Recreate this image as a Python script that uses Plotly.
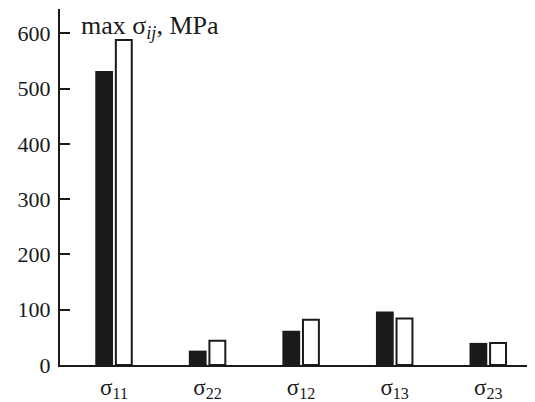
import plotly.graph_objects as go

categories = ["σ<sub>11</sub>", "σ<sub>22</sub>", "σ<sub>12</sub>", "σ<sub>13</sub>", "σ<sub>23</sub>"]
series_black = [532, 26, 62, 97, 40]
series_white = [588, 44, 82, 84, 40]
y_ticks = [0, 100, 200, 300, 400, 500, 600]

x = list(range(len(categories)))
ink = "#1a1a1a"
font = "Liberation Serif, Times New Roman, serif"

fig = go.Figure()
fig.add_trace(go.Bar(x=x, y=series_black, width=0.19, offset=-0.2,
                     marker=dict(color=ink, line=dict(width=0)), showlegend=False))
fig.add_trace(go.Bar(x=x, y=series_white, width=0.17, offset=0.02,
                     marker=dict(color="white", line=dict(color=ink, width=2)), showlegend=False))

# page body has an 8px default margin, so the figure is 8px smaller and margins shifted
fig.update_layout(
    width=527, height=394,
    margin=dict(l=52, r=0, t=1, b=37),
    plot_bgcolor="white", paper_bgcolor="white",
    font=dict(family=font, size=20, color=ink),
    xaxis=dict(range=[-0.577, 4.5], tickmode="array", tickvals=x, ticktext=categories,
               showline=True, linecolor=ink, linewidth=2, ticks="", showgrid=False,
               zeroline=False, tickfont=dict(size=23), ticklabelstandoff=0,
               automargin=False),
    yaxis=dict(range=[0, 644], tickmode="array", tickvals=y_ticks,
               showline=True, linecolor=ink, linewidth=2, ticks="inside", ticklen=10,
               tickwidth=2, tickcolor=ink, showgrid=False, zeroline=False,
               tickfont=dict(size=22), ticklabelstandoff=3, automargin=False),
    annotations=[dict(text="max σ<sub><i>ij</i></sub>, MPa", xref="paper", yref="paper",
                      x=0.04, y=1.0, xanchor="left", yanchor="top", showarrow=False,
                      font=dict(size=26, family=font, color=ink))],
)

fig.write_html("out.html")
